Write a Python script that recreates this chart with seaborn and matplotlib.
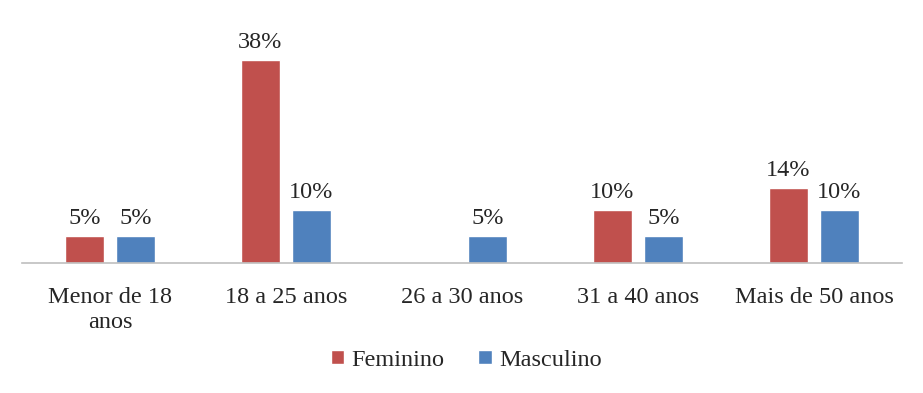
import matplotlib
matplotlib.use("Agg")
import matplotlib.pyplot as plt
import seaborn as sns
import pandas as pd
import numpy as np

# dados: faixa etária x gênero (%)
faixas = ["Menor de 18\nanos", "18 a 25 anos", "26 a 30 anos", "31 a 40 anos", "Mais de 50 anos"]
feminino = [5, 38, np.nan, 10, 14]
masculino = [5, 10, 5, 5, 10]
series = ["Feminino", "Masculino"]
cores = ["#C0504D", "#4F81BD"]

df = pd.DataFrame({
    "faixa": faixas * 2,
    "valor": feminino + masculino,
    "genero": [series[0]] * len(faixas) + [series[1]] * len(faixas),
})

sns.set_style("white")
plt.rcParams["font.family"] = ["Liberation Serif", "DejaVu Serif"]
fs = 17.5

fig = plt.figure(figsize=(9.23, 3.93), dpi=100)
ax = fig.add_axes([22 / 923, 1 - 263 / 393, 880 / 923, 240 / 393])

sns.barplot(data=df, x="faixa", y="valor", hue="genero", palette=cores,
            width=0.58, gap=0.24, saturation=1, ax=ax)

for cont in ax.containers:
    labels = ["" if np.isnan(v) else f"{v:.0f}%" for v in cont.datavalues]
    ax.bar_label(cont, labels=labels, padding=5, fontsize=fs)

ax.set_ylim(0, 45)
ax.set_xlim(-0.5, 4.5)
ax.set_xlabel("")
ax.set_ylabel("")
ax.set_yticks([])
ax.tick_params(axis="x", length=0, labelsize=fs, pad=17)
for lbl in ax.get_xticklabels():
    lbl.set_linespacing(1.25)
for s in ["top", "left", "right"]:
    ax.spines[s].set_visible(False)
ax.spines["bottom"].set_color("#BFBFBF")
ax.spines["bottom"].set_linewidth(1.2)

ax.legend(loc="center", bbox_to_anchor=(466 / 923, 1 - 360 / 393),
          bbox_transform=fig.transFigure, ncol=2, frameon=False,
          fontsize=fs, handlelength=0.55, handleheight=0.55,
          handletextpad=0.3, columnspacing=1.4)

fig.savefig("out.png", dpi=100)
